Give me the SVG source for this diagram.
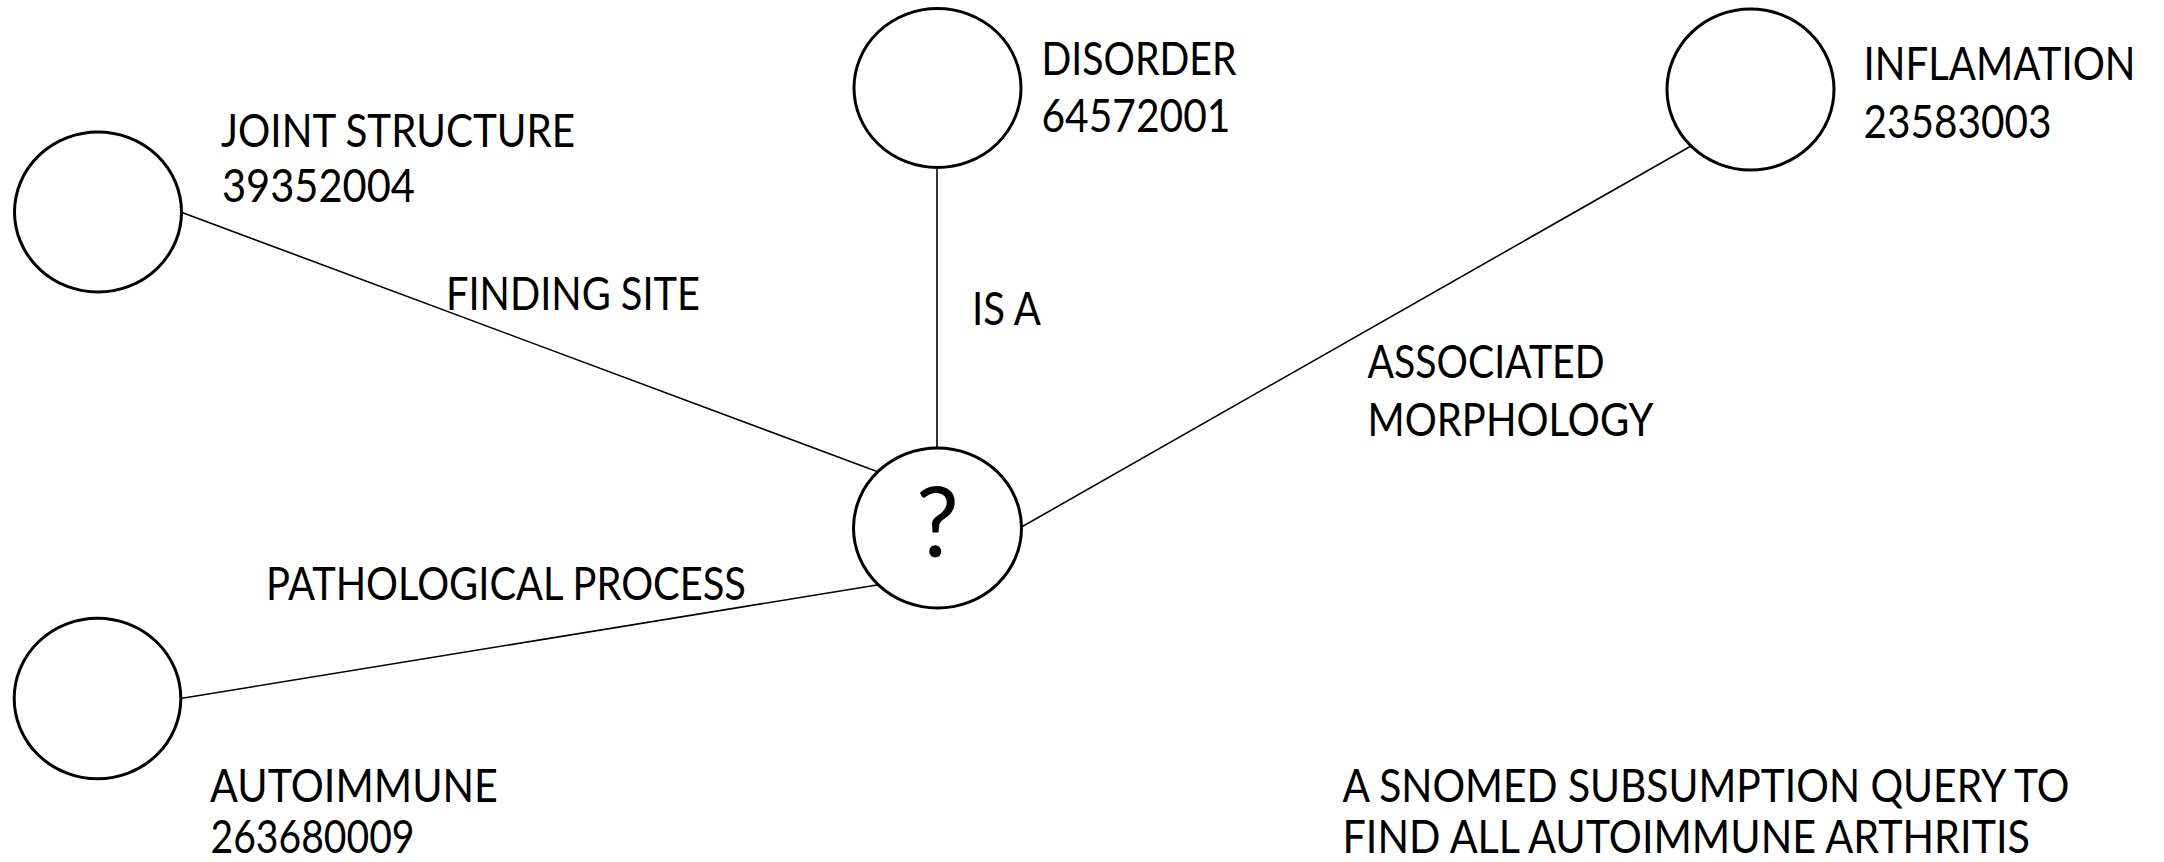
<svg xmlns="http://www.w3.org/2000/svg" width="2164" height="862" viewBox="0 0 2164 862">
<style>
.node{fill:#fff;stroke:#000;stroke-width:3}
.edge{stroke:#000;stroke-width:1.6;fill:none}
text{font-family:Lato,"Open Sans","Liberation Sans",sans-serif;font-size:46px;fill:#000}
.q{font-size:96px;text-anchor:middle}
</style>
<rect width="2164" height="862" fill="#fff"/>
<g id="connectors">
<line class="edge" x1="182" y1="212.5" x2="877" y2="471.5"/>
<line class="edge" x1="937" y1="167" x2="937" y2="448"/>
<line class="edge" x1="1691" y1="146" x2="1021.5" y2="527"/>
<line class="edge" x1="180.5" y1="698.5" x2="877" y2="585"/>
<text x="446" y="310" textLength="254" lengthAdjust="spacingAndGlyphs">FINDING SITE</text>
<text x="972" y="325" textLength="69" lengthAdjust="spacingAndGlyphs">IS A</text>
<text x="1367.5" y="378" textLength="237" lengthAdjust="spacingAndGlyphs">ASSOCIATED</text>
<text x="1367.5" y="436" textLength="286" lengthAdjust="spacingAndGlyphs">MORPHOLOGY</text>
<text x="266" y="600" textLength="480" lengthAdjust="spacingAndGlyphs">PATHOLOGICAL PROCESS</text>
</g>
<g id="joint-structure">
<ellipse class="node" cx="98" cy="212" rx="83.5" ry="80"/>
<text x="221" y="147" textLength="354" lengthAdjust="spacingAndGlyphs">JOINT STRUCTURE</text>
<text x="222" y="202" textLength="193" lengthAdjust="spacingAndGlyphs">39352004</text>
</g>
<g id="disorder">
<ellipse class="node" cx="937.5" cy="88" rx="83.5" ry="79.5"/>
<text x="1041.5" y="75" textLength="195" lengthAdjust="spacingAndGlyphs">DISORDER</text>
<text x="1041.5" y="132" textLength="189" lengthAdjust="spacingAndGlyphs">64572001</text>
</g>
<g id="inflamation">
<ellipse class="node" cx="1750.5" cy="89.5" rx="83.5" ry="80.5"/>
<text x="1863.5" y="80" textLength="272" lengthAdjust="spacingAndGlyphs">INFLAMATION</text>
<text x="1863.5" y="138" textLength="188" lengthAdjust="spacingAndGlyphs">23583003</text>
</g>
<g id="query">
<ellipse class="node" cx="937.5" cy="528" rx="84" ry="80"/>
<text class="q" x="937.5" y="557">?</text>
</g>
<g id="autoimmune">
<ellipse class="node" cx="97.5" cy="698.5" rx="83.3" ry="80.3"/>
<text x="210" y="801.5" textLength="288" lengthAdjust="spacingAndGlyphs">AUTOIMMUNE</text>
<text x="210.5" y="853" textLength="204" lengthAdjust="spacingAndGlyphs">263680009</text>
</g>
<g id="caption">
<text x="1342.5" y="801.5" textLength="727" lengthAdjust="spacingAndGlyphs">A SNOMED SUBSUMPTION QUERY TO</text>
<text x="1342.5" y="853" textLength="687.5" lengthAdjust="spacingAndGlyphs">FIND ALL AUTOIMMUNE ARTHRITIS</text>
</g>
</svg>
